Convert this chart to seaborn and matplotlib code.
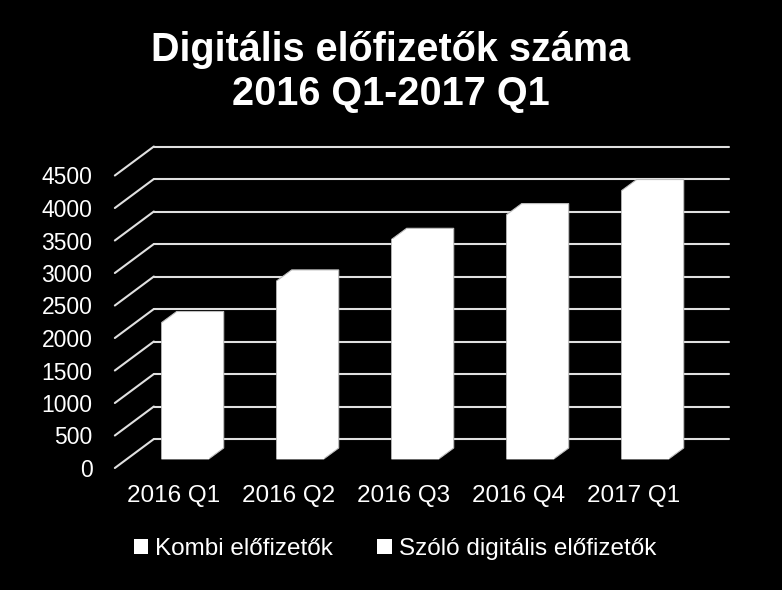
"""
Digitális előfizetők száma - fake 3D stacked column chart, black background
"""

import numpy as np
import pandas as pd
import matplotlib
matplotlib.use('Agg')
import matplotlib.pyplot as plt
import matplotlib.transforms as mtransforms
from matplotlib.patches import Polygon
import seaborn as sns

# data (the split between the two series is a guess,
# both series are white in the original)
quarters = ['2016 Q1', '2016 Q2', '2016 Q3', '2016 Q4', '2017 Q1']
kombi = [1850, 2000, 2150, 2250, 2350]
szolo = [250, 740, 1230, 1510, 1780]
y_ticks = [0, 500, 1000, 1500, 2000, 2500, 3000, 3500, 4000, 4500]

title = 'Digitális előfizetők száma\n2016 Q1-2017 Q1'
label_kombi = 'Kombi előfizetők'
label_szolo = 'Szóló digitális előfizetők'

df = pd.DataFrame({'quarter': quarters, 'kombi': kombi, 'szolo': szolo})
df['total'] = df['kombi'] + df['szolo']

sns.set_style('dark')
plt.rcParams['font.family'] = ['Liberation Sans', 'DejaVu Sans']

W, H, DPI = 782, 590, 100
fig = plt.figure(figsize=(W / DPI, H / DPI), dpi=DPI, facecolor='black')

# front plane of the 3D box (pixels)
left_px, right_px, zero_px = 116, 691, 468
px_per_unit = 0.065
top_px = zero_px - y_ticks[-1] * px_per_unit
ax = fig.add_axes([left_px / W, (H - zero_px) / H,
                   (right_px - left_px) / W, (zero_px - top_px) / H])
ax.set_facecolor('black')

xlim = (-0.51, 4.49)
ylim = (0, y_ticks[-1])
ax.set_xlim(*xlim)
ax.set_ylim(*ylim)
px_per_cat = (right_px - left_px) / (xlim[1] - xlim[0])

# depth of the box in pixels (to the back wall)
depth_dx, depth_dy = 39, 29
wall_dx = depth_dx / px_per_cat
wall_dy = depth_dy / px_per_unit

grid_color = '#e0e0e0'
for v in y_ticks:
    ax.plot([xlim[0] + wall_dx, xlim[1] + wall_dx], [v + wall_dy, v + wall_dy],
            color=grid_color, lw=1.5, clip_on=False, zorder=1)
    ax.plot([xlim[0], xlim[0] + wall_dx], [v, v + wall_dy],
            color=grid_color, lw=1.5, clip_on=False, zorder=1)

# bars: front face sits a bit inside the box
bar_width = 47 / px_per_cat
front_off = mtransforms.offset_copy(ax.transData, fig=fig, x=11.7, y=9, units='dots')
bar_dx = 15 / px_per_cat
bar_dy = 11 / px_per_unit

sns.barplot(data=df, x='quarter', y='total', color='white', width=bar_width,
            saturation=1, edgecolor='white', linewidth=0, ax=ax,
            label=label_szolo, zorder=3)
sns.barplot(data=df, x='quarter', y='kombi', color='white', width=bar_width,
            saturation=1, edgecolor='white', linewidth=0, ax=ax,
            label=label_kombi, zorder=3)

for p in ax.patches:
    p.set_transform(front_off)
    p.set_clip_on(False)

# top and side faces of each column (silhouette behind the front face)
for i, h in enumerate(df['total']):
    x0 = i - bar_width / 2
    x1 = i + bar_width / 2
    verts = [(x0, 0), (x0, h), (x0 + bar_dx, h + bar_dy), (x1 + bar_dx, h + bar_dy),
             (x1 + bar_dx, bar_dy), (x1, 0)]
    ax.add_patch(Polygon(verts, closed=True, facecolor='white', edgecolor='#bfbfbf',
                         lw=0.8, transform=front_off, clip_on=False, zorder=2))

ax.set_xlabel('')
ax.set_ylabel('')
ax.grid(False)
for s in ax.spines.values():
    s.set_visible(False)
ax.set_yticks(y_ticks)
ax.set_yticklabels([str(v) for v in y_ticks])
ax.tick_params(axis='y', colors='white', labelsize=16.5, length=0, pad=17)
ax.tick_params(axis='x', colors='white', labelsize=17.5, length=0, pad=12)

fig.text(0.5, 0.878, title, color='white', fontsize=28.5, fontweight='bold',
         ha='center', va='center', linespacing=1.2)

handles, labels = ax.get_legend_handles_labels()
if ax.get_legend() is not None:
    ax.get_legend().remove()
order = [labels.index(label_kombi), labels.index(label_szolo)]
leg = fig.legend([handles[i] for i in order], [labels[i] for i in order],
                 loc='center', bbox_to_anchor=(0.505, (H - 549) / H), ncol=2,
                 frameon=False, fontsize=17.5, handlelength=0.6, handleheight=0.6,
                 handletextpad=0.3, columnspacing=1.8, labelcolor='white')

fig.savefig('out.png', dpi=DPI, facecolor='black')
plt.close(fig)
